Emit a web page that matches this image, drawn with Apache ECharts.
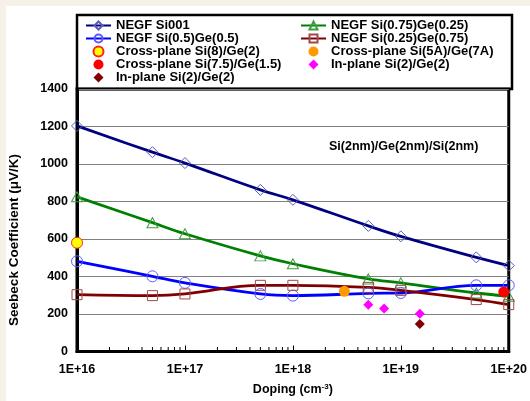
<!DOCTYPE html>
<html>
<head>
<meta charset="utf-8">
<script src="https://cdn.jsdelivr.net/npm/echarts@6/dist/echarts.min.js"></script>
<style>
html,body{margin:0;padding:0;background:#fff;}
#c{width:530px;height:401px;}
</style>
</head>
<body>
<div id="c"></div>
<script>
// ---- data ----
var doping = [1e16, 5e16, 1e17, 5e17, 1e18, 5e18, 1e19, 5e19, 1e20];
var negfSi001 = [1203, 1063, 1005, 862, 809, 670, 614, 502, 458];
var negfSi075Ge025 = [825, 687, 628, 510, 468, 387, 366, 312, 295];
var negfSi05Ge05 = [481, 401, 366, 307, 298, 310, 312, 353, 353];
var negfSi025Ge075 = [303, 298, 307, 353, 353, 342, 326, 277, 250];
var crossSi8Ge2 = [[1e16, 580]];
var crossSi5AGe7A = [[3e18, 321]];
var crossSi75Ge15 = [[9e19, 318]];
var inplaneMagenta = [[5e18, 250], [7e18, 229], [1.5e19, 202]];
var inplaneBrown = [[1.5e19, 147]];
var yTicks = [0, 200, 400, 600, 800, 1000, 1200, 1400];
var decades = [1e16, 1e17, 1e18, 1e19];
var minorMultipliers = [2, 3, 4, 5, 6, 7, 8, 9];

var FF = '"Liberation Sans", Arial, sans-serif';
function pairs(xs, ys) { return xs.map(function (x, i) { return [x, ys[i]]; }); }
var minorTicks = [];
decades.forEach(function (d) { minorMultipliers.forEach(function (m) { minorTicks.push([d * m, 0]); }); });

var N1 = 'NEGF Si001', N2 = 'NEGF Si(0.75)Ge(0.25)', N3 = 'NEGF Si(0.5)Ge(0.5)', N4 = 'NEGF Si(0.25)Ge(0.75)';
var S1 = 'Cross-plane Si(8)/Ge(2)', S2 = 'Cross-plane Si(5A)/Ge(7A)', S3 = 'Cross-plane Si(7.5)/Ge(1.5)';
var S4 = 'In-plane Si(2)/Ge(2)', S5 = 'In-plane Si(2)/Ge(2)\u200b';
var diamondIcon = 'path://M5,0L10,5L5,10L0,5Z';

function lineSeries(name, ys, lineColor, markColor, symbol, size) {
  return {
    name: name, type: 'line', data: pairs(doping, ys), smooth: 0.4,
    symbol: symbol, symbolSize: size, showAllSymbol: true,
    lineStyle: { color: lineColor, width: 2.8 },
    itemStyle: { color: 'rgba(255,255,255,0)', borderColor: markColor, borderWidth: 1 },
    emphasis: { disabled: true }, z: 3
  };
}
function scatterSeries(name, data, color, symbol, size, border) {
  return {
    name: name, type: 'scatter', data: data, symbol: symbol, symbolSize: size, symbolKeepAspect: true,
    itemStyle: { color: color, borderColor: border || color, borderWidth: border ? 1 : 0, opacity: 1 },
    emphasis: { disabled: true }, z: 5
  };
}
var legendText = { fontSize: 13, fontWeight: 'bold', fontFamily: FF, color: '#000', lineHeight: 12.5 };

var chart = echarts.init(document.getElementById('c'), null, { renderer: 'canvas' });
chart.setOption({
  animation: false,
  backgroundColor: '#fff',
  grid: { left: 77, right: 17, top: 89, bottom: 49, show: true, borderColor: '#000', borderWidth: 3, backgroundColor: 'rgba(0,0,0,0)' },
  legend: [
    { left: 85, top: 19, padding: 0, orient: 'vertical', itemWidth: 25, itemHeight: 10, itemGap: 0, selectedMode: false,
      textStyle: legendText, data: [N1, N3, S1, S3, {name: S5, icon: diamondIcon}] },
    { left: 300, top: 19, padding: 0, orient: 'vertical', itemWidth: 25, itemHeight: 10, itemGap: 0, selectedMode: false,
      textStyle: legendText, data: [N2, N4, S2, {name: S4, icon: diamondIcon}] }
  ],
  xAxis: {
    type: 'log', logBase: 10, min: 1e16, max: 1e20, splitNumber: 4,
    name: 'Doping (cm{sup|-3})', nameLocation: 'middle', nameGap: 31,
    nameTextStyle: { fontSize: 12.5, fontWeight: 'bold', fontFamily: FF, color: '#000',
      rich: { sup: { fontSize: 8, fontWeight: 'bold', fontFamily: FF, color: '#000', verticalAlign: 'top', padding: [0, 0, 6, 0] } } },
    axisLine: { show: true, lineStyle: { color: '#000', width: 3 } },
    axisTick: { show: true, inside: true, length: 6, lineStyle: { color: '#000', width: 1 } },
    axisLabel: { margin: 12, fontSize: 12.5, fontWeight: 'bold', fontFamily: FF, color: '#000',
      formatter: function (v) { return '1E+' + Math.round(Math.log10(v)); } },
    splitLine: { show: false }
  },
  yAxis: {
    type: 'value', min: 0, max: 1400, interval: 200,
    axisLine: { show: true, lineStyle: { color: '#000', width: 3 } },
    axisTick: { show: false },
    axisLabel: { margin: 9, fontSize: 12.5, fontWeight: 'bold', fontFamily: FF, color: '#000',
      formatter: function (v) { return yTicks.indexOf(v) >= 0 ? String(v) : ''; } },
    splitLine: { show: true, lineStyle: { color: '#808080', width: 1 } }
  },
  graphic: [
    { type: 'rect', shape: { x: 0, y: 0, width: 530, height: 6 }, style: { fill: '#f5f1e8' }, silent: true, z: -10 },
    { type: 'rect', shape: { x: 0, y: 0, width: 6, height: 401 }, style: { fill: '#f5f1e8' }, silent: true, z: -10 },
    { type: 'rect', shape: { x: 77, y: 15, width: 435, height: 74 }, style: { fill: '#fff', stroke: '#000', lineWidth: 2.5 }, silent: true, z: -5 },
    { type: 'text', x: 329, y: 147, style: { text: 'Si(2nm)/Ge(2nm)/Si(2nm)', font: 'bold 12.5px ' + FF, fill: '#000', verticalAlign: 'middle', align: 'left' }, silent: true },
    { type: 'text', x: 14, y: 240, rotation: Math.PI / 2, style: { text: 'Seebeck Coefficient (\u03bcV/K)', font: 'bold 13.5px ' + FF, fill: '#000', align: 'center', verticalAlign: 'middle' }, silent: true }
  ],
  series: [
    lineSeries(N1, negfSi001, '#000080', '#5a5ab8', 'diamond', 11),
    lineSeries(N2, negfSi075Ge025, '#008000', '#3f9f3f', 'triangle', [11, 10]),
    lineSeries(N3, negfSi05Ge05, '#0000ff', '#5a5aff', 'circle', 11),
    lineSeries(N4, negfSi025Ge075, '#800000', '#a04848', 'rect', 10),
    scatterSeries(S1, crossSi8Ge2, '#ffff00', 'circle', 11, '#ff2020'),
    scatterSeries(S2, crossSi5AGe7A, '#ff9900', 'circle', 11),
    scatterSeries(S3, crossSi75Ge15, '#ff0000', 'circle', 11),
    scatterSeries(S4, inplaneMagenta, '#ff00ff', 'diamond', 10),
    scatterSeries(S5, inplaneBrown, '#800000', 'diamond', 10),
    {
      type: 'custom', name: 'minorTicks', data: minorTicks, silent: true, z: 4,
      renderItem: function (params, api) {
        var p = api.coord([api.value(0), api.value(1)]);
        return { type: 'line', shape: { x1: p[0], y1: p[1], x2: p[0], y2: p[1] - 4.5 }, style: { stroke: '#000', lineWidth: 1 } };
      }
    }
  ]
});
</script>
</body>
</html>
